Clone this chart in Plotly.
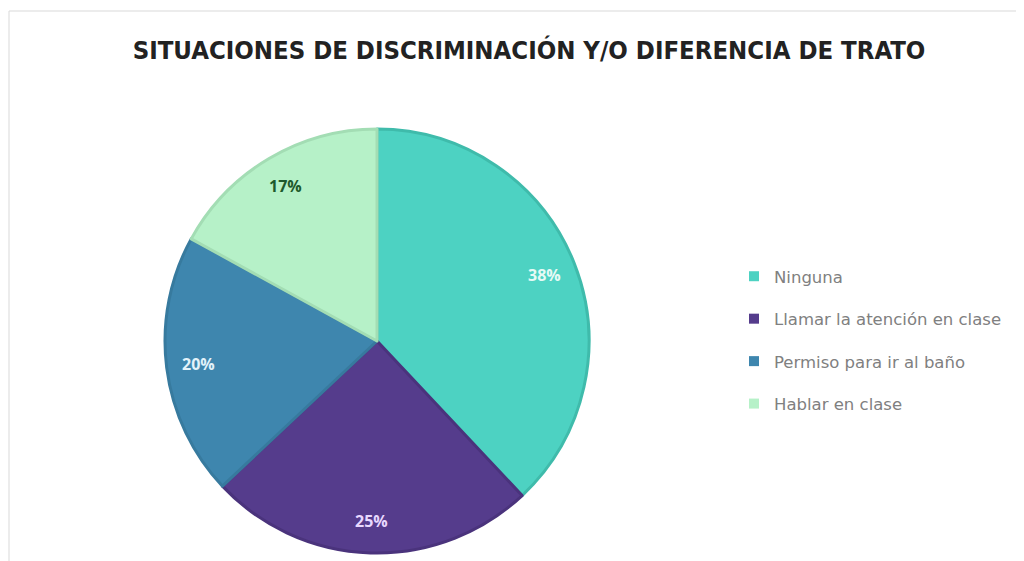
import numpy as np
import plotly.graph_objects as go

labels = ["Ninguna", "Llamar la atención en clase", "Permiso para ir al baño", "Hablar en clase"]
values = [38, 25, 20, 17]
colors = ["#4DD2C2", "#553C8C", "#3E86AE", "#B6F1C8"]
edge_colors = ["#3FBBAB", "#4A337C", "#377A9E", "#A3DDB4"]
text_colors = ["#E6FAF6", "#E8D8FF", "#E2F2FA", "#1D5A2C"]

W, H = 1024, 561
# pie placement in page pixels (page has an 8px body margin)
cx, cy, R = 369, 333, 212

fig = go.Figure()

fig.add_trace(go.Pie(
    labels=labels, values=values, sort=False, direction="clockwise", rotation=0,
    marker=dict(colors=colors, line=dict(color=edge_colors, width=3)),
    textinfo="none",
    domain=dict(x=[(cx - R) / W, (cx + R) / W], y=[1 - (cy + R) / H, 1 - (cy - R) / H]),
    showlegend=False, hoverinfo="label+percent",
))

# percentage labels placed near the outer edge of each slice (like Excel "best fit")
vals = np.array(values, dtype=float)
frac = vals / vals.sum()
mid = (np.cumsum(frac) - frac / 2) * 2 * np.pi
r_lab = 0.85 * R
annotations = []
for f, a, tc in zip(frac, mid, text_colors):
    annotations.append(dict(
        x=cx + r_lab * np.sin(a), y=cy - r_lab * np.cos(a), xref="x", yref="y",
        text=f"{round(f * 100)}%", showarrow=False,
        font=dict(family="Open Sans", size=16, color=tc, weight="bold"),
    ))

# legend entries drawn as dummy square markers so the spacing can be set
for name, c in zip(labels, colors):
    fig.add_trace(go.Scatter(
        x=[None], y=[None], mode="markers", name=name, legendgroup=name,
        marker=dict(symbol="square", size=10, color=c),
    ))

fig.update_layout(
    width=W, height=H,
    margin=dict(l=0, r=0, t=0, b=0),
    paper_bgcolor="white", plot_bgcolor="rgba(0,0,0,0)",
    title=dict(text="SITUACIONES DE DISCRIMINACIÓN Y/O DIFERENCIA DE TRATO",
               x=(529 - 8) / W, xanchor="center", y=1 - 42 / H, yanchor="middle",
               font=dict(family="DejaVu Sans Condensed", size=25.5, color="#222222", weight="bold")),
    xaxis=dict(visible=False, range=[0, W], fixedrange=True),
    yaxis=dict(visible=False, range=[H, 0], fixedrange=True),
    annotations=annotations,
    legend=dict(x=726 / W, xanchor="left", y=1 - 332 / H, yanchor="middle",
                tracegroupgap=18, font=dict(family="DejaVu Sans", size=16.5, color="#808080"),
                bgcolor="rgba(0,0,0,0)"),
    shapes=[dict(type="rect", xref="paper", yref="paper",
                 x0=1 / W, x1=1.01, y0=-0.01, y1=1 - 3 / H,
                 line=dict(color="#D9D9D9", width=1), layer="below")],
)

fig.write_html("out.html")
